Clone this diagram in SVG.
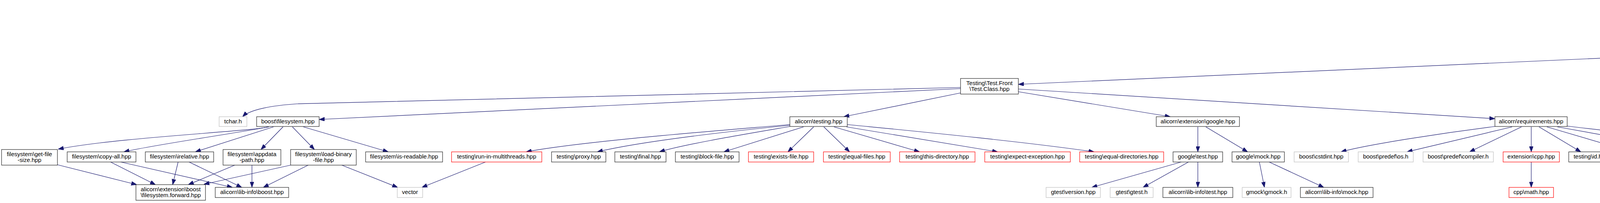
<svg xmlns="http://www.w3.org/2000/svg" width="5027" height="520" viewBox="0 0 5027 520">
<style>
rect{fill:#fff;stroke:#222;stroke-width:1.2}
.g rect{stroke:#bfbfbf}
.r rect{stroke:#ff0000}
.root rect{fill:#bfbfbf;stroke:#333}
text{font-family:"Liberation Sans",Arial,Helvetica,sans-serif;font-size:15px;fill:#000;text-anchor:middle}
.l{text-anchor:start}
#edges path{fill:none;stroke:#191970;stroke-width:1.2;marker-end:url(#a)}
</style>
<defs>
<marker id="a" markerUnits="userSpaceOnUse" markerWidth="14" markerHeight="10" refX="14" refY="5" orient="auto"><path d="M0,0L14,5L0,10z" fill="#191970" stroke="#191970" stroke-width="1"/></marker>
</defs>
<rect x="0" y="0" width="5027" height="520" style="fill:#fff;stroke:none"/>
<g id="edges">
<path d="M4383,76L4317,125"/>
<path d="M4483,76L4555,125"/>
<path d="M4255,142L2607,216"/>
<path d="M4293,151L4293,209"/>
<path d="M4281,234L4216,299"/>
<path d="M4305,234L4371,299"/>
<path d="M4594,152L4698,209"/>
<path d="M4718.5,234L4718.5,292"/>
<path d="M4746,234L4890,299"/>
<path d="M4737,332L4788,389"/>
<path d="M2459,224C1500,245 900,258 760,266C700,270 640,280 621,299"/>
<path d="M2459,227L817,306"/>
<path d="M2459,238L2160,299"/>
<path d="M2607,235L2996,299"/>
<path d="M2607,228L3827,304"/>
<path d="M688,325C640,337 300,352 149,382"/>
<path d="M688,325C600,342 400,370 317,389"/>
<path d="M700,325L500,389"/>
<path d="M724.5,325L668,383"/>
<path d="M748.6,325L805,383"/>
<path d="M776.7,325L994,389"/>
<path d="M147,422L350,473"/>
<path d="M283,415L398,473"/>
<path d="M309,415L595,480"/>
<path d="M456,415L442,473"/>
<path d="M484,415L619,480"/>
<path d="M601,423L482,473"/>
<path d="M645,423L645,480"/>
<path d="M744,423L522,472"/>
<path d="M789,423L674,480"/>
<path d="M875,423L1018,480"/>
<path d="M1243,415L1080,480"/>
<path d="M2022,319C1900,330 1500,360 1347,389"/>
<path d="M2022,321C1900,333 1650,360 1529,389"/>
<path d="M2022,324C1900,345 1750,370 1688,389"/>
<path d="M2057,325L1853,389"/>
<path d="M2083,325L2017,389"/>
<path d="M2109,325L2175,389"/>
<path d="M2135,325L2354,389"/>
<path d="M2167,325L2554,389"/>
<path d="M2169,319C2300,332 2600,360 2801,389"/>
<path d="M3066.5,325L3066.5,389"/>
<path d="M3087,325L3194,389"/>
<path d="M3024,415L2795,480"/>
<path d="M3042.5,415L2926,480"/>
<path d="M3066.5,415L3066.5,480"/>
<path d="M3224,415L3237,480"/>
<path d="M3249,415L3389,480"/>
<path d="M3827,324C3700,340 3500,370 3433,389"/>
<path d="M3871,325C3800,342 3700,365 3602,389"/>
<path d="M3895,325L3762,389"/>
<path d="M3920,325L3920,389"/>
<path d="M3940,325L4047,389"/>
<path d="M3960,325L4178,389"/>
<path d="M3987,325L4343,389"/>
<path d="M4012,323C4150,340 4400,365 4553,389"/>
<path d="M3920,415L3920,480"/>
</g>
<g id="root" class="root"><rect x="4308" y="6" width="251" height="70"/><text class="l" x="4319" y="22.5">Solution/Solution/Alicorn</text><text class="l" x="4319" y="37.5">/Build/Document/Test.Document</text><text class="l" x="4319" y="52.5">/Test.XmlImplementation/RapidXml</text><text x="4433.5" y="67.5">_test.cpp</text></g>
<g id="stdafx"><rect x="4255" y="125.5" width="76" height="26"/><text x="4293" y="142.5">stdafx.h</text></g>
<g id="alicorn_version"><rect x="4499" y="125.5" width="147" height="26"/><text x="4572.5" y="142.5">alicorn\version.hpp</text></g>
<g id="test_class"><rect x="2459" y="201" width="148" height="40"/><text x="2533" y="217.5">Testing\Test.Front</text><text x="2533" y="232.5">\Test.Class.hpp</text></g>
<g id="mock"><rect x="4242" y="209" width="102" height="25"/><text x="4293" y="225.5">..\mock.hpp</text></g>
<g id="version_info"><rect x="4654.5" y="209" width="127.5" height="25"/><text x="4718.25" y="225.5">version\info.hpp</text></g>
<g id="tchar" class="g"><rect x="561" y="299" width="71" height="25"/><text x="596.5" y="315.5">tchar.h</text></g>
<g id="boost_filesystem"><rect x="657" y="299" width="160" height="25"/><text x="737" y="315.5">boost\filesystem.hpp</text></g>
<g id="alicorn_testing"><rect x="2022" y="299" width="147" height="25"/><text x="2095.5" y="315.5">alicorn\testing.hpp</text></g>
<g id="alicorn_google"><rect x="2960" y="299" width="213" height="25"/><text x="3066.5" y="315.5">alicorn\extension\google.hpp</text></g>
<g id="alicorn_requirements"><rect x="3827" y="299" width="185" height="25"/><text x="3919.5" y="315.5">alicorn\requirements.hpp</text></g>
<g id="mock_namespaces" class="g"><rect x="4116" y="299" width="173" height="25"/><text x="4202.5" y="315.5">Mock\Namespaces.hpp</text></g>
<g id="mock_xmlimpl" class="g"><rect x="4313" y="299" width="142" height="25"/><text x="4384" y="315.5">Mock\XmlImpl.hpp</text></g>
<g id="string_forward"><rect x="4638" y="292" width="161" height="40"/><text x="4718.5" y="308.5">alicorn\extension\std</text><text x="4718.5" y="323.5">\string.forward.hpp</text></g>
<g id="libinfo_version"><rect x="4823" y="299" width="199" height="25"/><text x="4922.5" y="315.5">alicorn\lib-info\version.hpp</text></g>
<g id="get_file_size"><rect x="4" y="383" width="143" height="40"/><text x="75.5" y="399.5">filesystem\get-file</text><text x="75.5" y="414.5">-size.hpp</text></g>
<g id="copy_all"><rect x="172" y="389" width="176" height="26"/><text x="260" y="406">filesystem\copy-all.hpp</text></g>
<g id="irelative"><rect x="372" y="389" width="175" height="26"/><text x="459.5" y="406">filesystem\irelative.hpp</text></g>
<g id="appdata_path"><rect x="571" y="383" width="148" height="40"/><text x="645" y="399.5">filesystem\appdata</text><text x="645" y="414.5">-path.hpp</text></g>
<g id="load_binary_file"><rect x="744" y="383" width="168" height="40"/><text x="828" y="399.5">filesystem\load-binary</text><text x="828" y="414.5">-file.hpp</text></g>
<g id="is_readable"><rect x="936" y="389" width="197" height="26"/><text x="1034.5" y="406">filesystem\is-readable.hpp</text></g>
<g id="run_in_multithreads" class="r"><rect x="1156" y="389" width="231" height="26"/><text x="1271.5" y="406">testing\run-in-multithreads.hpp</text></g>
<g id="proxy"><rect x="1412" y="389" width="139" height="26"/><text x="1481.5" y="406">testing\proxy.hpp</text></g>
<g id="final"><rect x="1574" y="389" width="131" height="26"/><text x="1639.5" y="406">testing\final.hpp</text></g>
<g id="block_file"><rect x="1729" y="389" width="163" height="26"/><text x="1810.5" y="406">testing\block-file.hpp</text></g>
<g id="exists_file" class="r"><rect x="1916" y="389" width="167" height="26"/><text x="1999.5" y="406">testing\exists-file.hpp</text></g>
<g id="equal_files" class="r"><rect x="2108" y="389" width="171" height="26"/><text x="2193.5" y="406">testing\equal-files.hpp</text></g>
<g id="this_directory" class="r"><rect x="2303" y="389" width="193" height="26"/><text x="2399.5" y="406">testing\this-directory.hpp</text></g>
<g id="expect_exception" class="r"><rect x="2521" y="389" width="219" height="26"/><text x="2630.5" y="406">testing\expect-exception.hpp</text></g>
<g id="equal_directories" class="r"><rect x="2764" y="389" width="215" height="26"/><text x="2871.5" y="406">testing\equal-directories.hpp</text></g>
<g id="google_test"><rect x="3003" y="389" width="127" height="26"/><text x="3066.5" y="406">google\test.hpp</text></g>
<g id="google_mock"><rect x="3154" y="389" width="134" height="26"/><text x="3221" y="406">google\mock.hpp</text></g>
<g id="boost_cstdint" class="g"><rect x="3313" y="389" width="139" height="26"/><text x="3382.5" y="406">boost\cstdint.hpp</text></g>
<g id="boost_os" class="g"><rect x="3477" y="389" width="141" height="26"/><text x="3547.5" y="406">boost\predef\os.h</text></g>
<g id="boost_compiler" class="g"><rect x="3643" y="389" width="180" height="26"/><text x="3733" y="406">boost\predef\compiler.h</text></g>
<g id="extension_cpp" class="r"><rect x="3848" y="389" width="144" height="26"/><text x="3920" y="406">extension\cpp.hpp</text></g>
<g id="testing_id"><rect x="4016" y="389" width="114" height="26"/><text x="4073" y="406">testing\id.hpp</text></g>
<g id="testing_friend"><rect x="4155" y="389" width="140" height="26"/><text x="4225" y="406">testing\friend.hpp</text></g>
<g id="using_mock"><rect x="4319" y="389" width="179" height="26"/><text x="4408.5" y="406">testing\using-mock.hpp</text></g>
<g id="virtual_mock"><rect x="4523" y="389" width="186" height="26"/><text x="4616" y="406">testing\virtual-mock.hpp</text></g>
<g id="string_prefix"><rect x="4733" y="389" width="131" height="26"/><text x="4798.5" y="406">string\prefix.hpp</text></g>
<g id="filesystem_forward"><rect x="348" y="473" width="178" height="40"/><text x="437" y="489.5">alicorn\extension\boost</text><text x="437" y="504.5">\filesystem.forward.hpp</text></g>
<g id="libinfo_boost"><rect x="551" y="480" width="188" height="26"/><text x="645" y="497">alicorn\lib-info\boost.hpp</text></g>
<g id="vector" class="g"><rect x="1017" y="480" width="65" height="26"/><text x="1049.5" y="497">vector</text></g>
<g id="gtest_version" class="g"><rect x="2678" y="480" width="139" height="26"/><text x="2747.5" y="497">gtest\version.hpp</text></g>
<g id="gtest_h" class="g"><rect x="2842" y="480" width="110" height="26"/><text x="2897" y="497">gtest\gtest.h</text></g>
<g id="libinfo_test"><rect x="2977" y="480" width="179" height="26"/><text x="3066.5" y="497">alicorn\lib-info\test.hpp</text></g>
<g id="gmock_h" class="g"><rect x="3180" y="480" width="125" height="26"/><text x="3242.5" y="497">gmock\gmock.h</text></g>
<g id="libinfo_mock"><rect x="3329" y="480" width="186" height="26"/><text x="3422" y="497">alicorn\lib-info\mock.hpp</text></g>
<g id="cpp_math" class="r"><rect x="3863" y="480" width="114" height="26"/><text x="3920" y="497">cpp\math.hpp</text></g>
</svg>
